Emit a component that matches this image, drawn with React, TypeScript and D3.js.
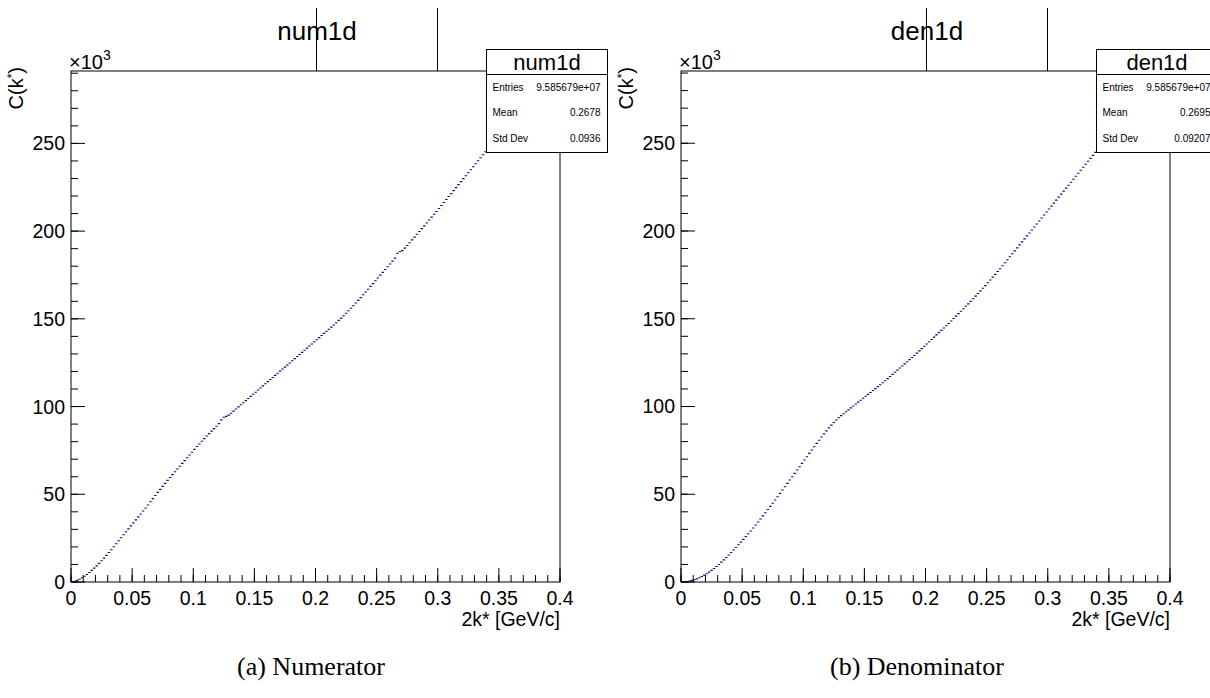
import React, { useEffect } from 'react';
import * as d3 from 'd3';

// ---------- data ----------
const xDomain = [0, 0.4];
const binWidth = 0.002; // 200 bins on [0, 0.4]
const xMajorTicks = [0, 0.05, 0.1, 0.15, 0.2, 0.25, 0.3, 0.35, 0.4];
const xTickLabels = ['0', '0.05', '0.1', '0.15', '0.2', '0.25', '0.3', '0.35', '0.4'];
const yMajorTicks = [0, 50, 100, 150, 200, 250];
const yTickLabels = ['0', '50', '100', '150', '200', '250'];
const statLabels = ['Entries', 'Mean', 'Std Dev'];
const numStatValues = ['9.585679e+07', '0.2678', '0.0936'];
const denStatValues = ['9.585679e+07', '0.2695', '0.09207'];

// bin contents in units of 10^3
const num1d = [
  0.1, 0.4, 0.9, 1.6, 2.4, 3.3, 4.3, 5.4, 6.6, 7.9,
  9.2, 10.6, 12.1, 13.6, 15.2, 16.8, 18.4, 20.1, 21.8, 23.5,
  25.2, 26.9, 28.6, 30.3, 32.0, 33.7, 35.4, 37.1, 38.8, 40.5,
  42.2, 43.9, 45.7, 47.5, 49.3, 51.1, 52.8, 54.5, 56.2, 57.9,
  59.6, 61.2, 62.8, 64.4, 66.0, 67.6, 69.2, 70.8, 72.4, 74.0,
  75.6, 77.2, 78.7, 80.2, 81.7, 83.2, 84.6, 86.0, 87.4, 88.8,
  90.3, 92.4, 93.9, 94.4, 95.1, 96.2, 97.4, 98.6, 99.8, 101.0,
  102.2, 103.4, 104.6, 105.8, 107.0, 108.2, 109.4, 110.6, 111.8, 113.0,
  114.2, 115.4, 116.6, 117.8, 119.0, 120.2, 121.4, 122.5, 123.6, 124.8,
  126.1, 127.3, 128.5, 129.7, 130.9, 132.1, 133.3, 134.5, 135.7, 136.9,
  138.1, 139.3, 140.5, 141.7, 142.9, 144.1, 145.3, 146.5, 147.8, 149.1,
  150.4, 151.8, 153.2, 154.6, 156.0, 157.5, 159.0, 160.5, 162.1, 163.7,
  165.3, 166.9, 168.5, 170.1, 171.7, 173.3, 174.9, 176.5, 178.1, 179.7,
  181.3, 182.9, 184.6, 187.4, 188.2, 188.9, 190.3, 191.8, 193.4, 195.0,
  196.6, 198.2, 199.8, 201.4, 203.0, 204.6, 206.3, 208.0, 209.6, 211.2,
  212.9, 214.6, 216.3, 218.0, 219.7, 221.4, 223.1, 224.8, 226.5, 228.2,
  229.9, 231.6, 233.3, 235.0, 236.7, 238.4, 240.1, 241.8, 243.5, 245.2,
  246.9, 248.4, 249.9, 251.3, 252.6, 253.9, 255.2, 256.4, 257.6, 258.8,
  260.0, 261.1, 262.2, 263.3, 264.3, 265.3, 266.3, 267.3, 268.2, 269.1,
  270.0, 270.9, 271.8, 272.6, 273.4, 274.2, 275.0, 275.8, 276.6, 277.4,
];

const den1d = [
  0.0, 0.1, 0.3, 0.6, 0.9, 1.3, 1.8, 2.4, 3.1, 3.9,
  4.7, 5.6, 6.6, 7.7, 8.8, 10.0, 11.3, 12.6, 14.0, 15.4,
  16.8, 18.2, 19.7, 21.2, 22.7, 24.3, 25.9, 27.5, 29.1, 30.8,
  32.5, 34.2, 35.9, 37.7, 39.5, 41.3, 43.1, 44.9, 46.7, 48.6,
  50.5, 52.4, 54.3, 56.2, 58.1, 60.0, 61.9, 63.8, 65.7, 67.6,
  69.5, 71.4, 73.3, 75.2, 77.1, 79.0, 80.8, 82.6, 84.4, 86.1,
  87.8, 89.4, 90.9, 92.3, 93.6, 94.8, 95.9, 97.0, 98.1, 99.2,
  100.3, 101.4, 102.5, 103.6, 104.7, 105.8, 106.9, 108.0, 109.1, 110.2,
  111.3, 112.4, 113.5, 114.7, 115.9, 117.1, 118.3, 119.5, 120.7, 121.9,
  123.1, 124.3, 125.5, 126.7, 127.9, 129.1, 130.4, 131.7, 133.0, 134.3,
  135.6, 136.9, 138.2, 139.5, 140.8, 142.1, 143.4, 144.7, 146.0, 147.3,
  148.7, 150.1, 151.5, 152.9, 154.3, 155.7, 157.1, 158.5, 159.9, 161.4,
  162.9, 164.4, 165.9, 167.4, 168.9, 170.5, 172.1, 173.7, 175.3, 176.9,
  178.5, 180.2, 181.9, 183.6, 185.3, 187.0, 188.7, 190.4, 192.1, 193.8,
  195.5, 197.2, 198.9, 200.6, 202.3, 204.0, 205.7, 207.4, 209.1, 210.8,
  212.5, 214.2, 215.9, 217.6, 219.3, 221.0, 222.7, 224.4, 226.1, 227.8,
  229.5, 231.2, 232.9, 234.6, 236.3, 238.0, 239.7, 241.4, 243.1, 244.8,
  246.4, 248.0, 249.5, 250.9, 252.3, 253.7, 255.0, 256.3, 257.5, 258.7,
  259.9, 261.0, 262.1, 263.2, 264.2, 265.2, 266.2, 267.2, 268.1, 269.0,
  269.9, 270.8, 271.7, 272.5, 273.3, 274.1, 274.9, 275.7, 276.5, 277.3,
];

const SANS = '"Liberation Sans", Arial, Helvetica, sans-serif';
const SERIF = '"Liberation Serif", "Times New Roman", serif';

type PanelProps = {
  ox: number;
  name: string;
  values: number[];
  statValues: string[];
  caption: string;
  captionX: number;
};

function Panel({ ox, name, values, statValues, caption, captionX }: PanelProps) {
  const left = ox + 71;
  const right = ox + 560;
  const top = 71;
  const bottom = 582;
  const x = d3.scaleLinear().domain(xDomain).range([left, right]);
  const ymax = (d3.max(values) as number) * 1.05;
  const y = d3.scaleLinear().domain([0, ymax]).range([bottom, top]);

  const minorX = d3.range(0, 41).map((i) => i * 0.01);
  const minorY = d3.range(0, Math.floor(ymax / 10) + 1).map((i) => i * 10).filter((v) => v <= ymax);

  const path = values
    .map((v, i) => `M${x(i * binWidth)},${y(v)}H${x((i + 1) * binWidth)}`)
    .join('');

  const bx = ox + 486.5;
  const by = 49.5;
  const bw = 121;
  const bh = 103;
  const rowY = [91, 116, 142];

  return (
    <g>
      {/* title lines and title */}
      <line x1={ox + 316.5} x2={ox + 316.5} y1={8} y2={top} stroke="#000" strokeWidth={1} />
      <line x1={ox + 437.5} x2={ox + 437.5} y1={8} y2={top} stroke="#000" strokeWidth={1} />
      <text x={ox + 317} y={40} fontFamily={SANS} fontSize={26} textAnchor="middle" fill="#000">
        {name}
      </text>

      {/* histogram */}
      <path d={path} fill="none" stroke="#0c0c84" strokeWidth={1.1} />

      {/* frame */}
      <rect x={left} y={top} width={right - left} height={bottom - top} fill="none" stroke="#000" strokeWidth={1} />

      {/* x ticks */}
      {minorX.map((t, i) => (
        <line key={'xm' + i} x1={x(t)} x2={x(t)} y1={bottom} y2={bottom - 7} stroke="#000" strokeWidth={1} />
      ))}
      {xMajorTicks.map((t, i) => (
        <line key={'xM' + i} x1={x(t)} x2={x(t)} y1={bottom} y2={bottom - 14} stroke="#000" strokeWidth={1} />
      ))}
      {xMajorTicks.map((t, i) => (
        <text key={'xl' + i} x={x(t)} y={605} fontFamily={SANS} fontSize={19.5} textAnchor="middle" fill="#000">
          {xTickLabels[i]}
        </text>
      ))}
      <text x={right} y={626} fontFamily={SANS} fontSize={19.5} textAnchor="end" fill="#000">
        2k* [GeV/c]
      </text>

      {/* y ticks */}
      {minorY.map((t, i) => (
        <line key={'ym' + i} x1={left} x2={left + 7} y1={y(t)} y2={y(t)} stroke="#000" strokeWidth={1} />
      ))}
      {yMajorTicks.map((t, i) => (
        <line key={'yM' + i} x1={left} x2={left + 14} y1={y(t)} y2={y(t)} stroke="#000" strokeWidth={1} />
      ))}
      {yMajorTicks.map((t, i) => (
        <text key={'yl' + i} x={left - 6} y={y(t) + 7} fontFamily={SANS} fontSize={19.5} textAnchor="end" fill="#000">
          {yTickLabels[i]}
        </text>
      ))}
      <text x={left - 2} y={69} fontFamily={SANS} fontSize={20} fill="#000">
        ×10
        <tspan fontSize={14} dy={-9}>3</tspan>
      </text>
      <text
        transform={`translate(${ox + 23},${top - 4}) rotate(-90)`}
        fontFamily={SANS}
        fontSize={20}
        textAnchor="end"
        fill="#000"
      >
        C(k<tspan fontSize={12} dy={-7}>*</tspan><tspan dy={7}>)</tspan>
      </text>

      {/* stat box */}
      <rect x={bx} y={by} width={bw} height={bh} fill="#fff" stroke="#000" strokeWidth={1} />
      <line x1={bx} x2={bx + bw} y1={74.5} y2={74.5} stroke="#000" strokeWidth={1} />
      <text x={bx + bw / 2} y={70} fontFamily={SANS} fontSize={22} textAnchor="middle" fill="#000">
        {name}
      </text>
      {statLabels.map((l, i) => (
        <g key={'st' + i}>
          <text x={bx + 6} y={rowY[i]} fontFamily={SANS} fontSize={10} fill="#000">
            {l}
          </text>
          <text x={bx + 114} y={rowY[i]} fontFamily={SANS} fontSize={10} textAnchor="end" fill="#000">
            {statValues[i]}
          </text>
        </g>
      ))}

      {/* caption */}
      <text x={captionX} y={675} fontFamily={SERIF} fontSize={26} textAnchor="middle" fill="#000">
        {caption}
      </text>
    </g>
  );
}

export default function App() {
  useEffect(() => {
    document.body.style.margin = '0';
  }, []);
  return (
    <svg
      width={1210}
      height={698}
      viewBox="0 0 1210 698"
      style={{ position: 'absolute', left: 0, top: 0, background: '#fff' }}
    >
      <rect x={0} y={0} width={1210} height={698} fill="#fff" />
      <Panel ox={0} name="num1d" values={num1d} statValues={numStatValues} caption="(a) Numerator" captionX={311} />
      <Panel ox={610} name="den1d" values={den1d} statValues={denStatValues} caption="(b) Denominator" captionX={917} />
    </svg>
  );
}
